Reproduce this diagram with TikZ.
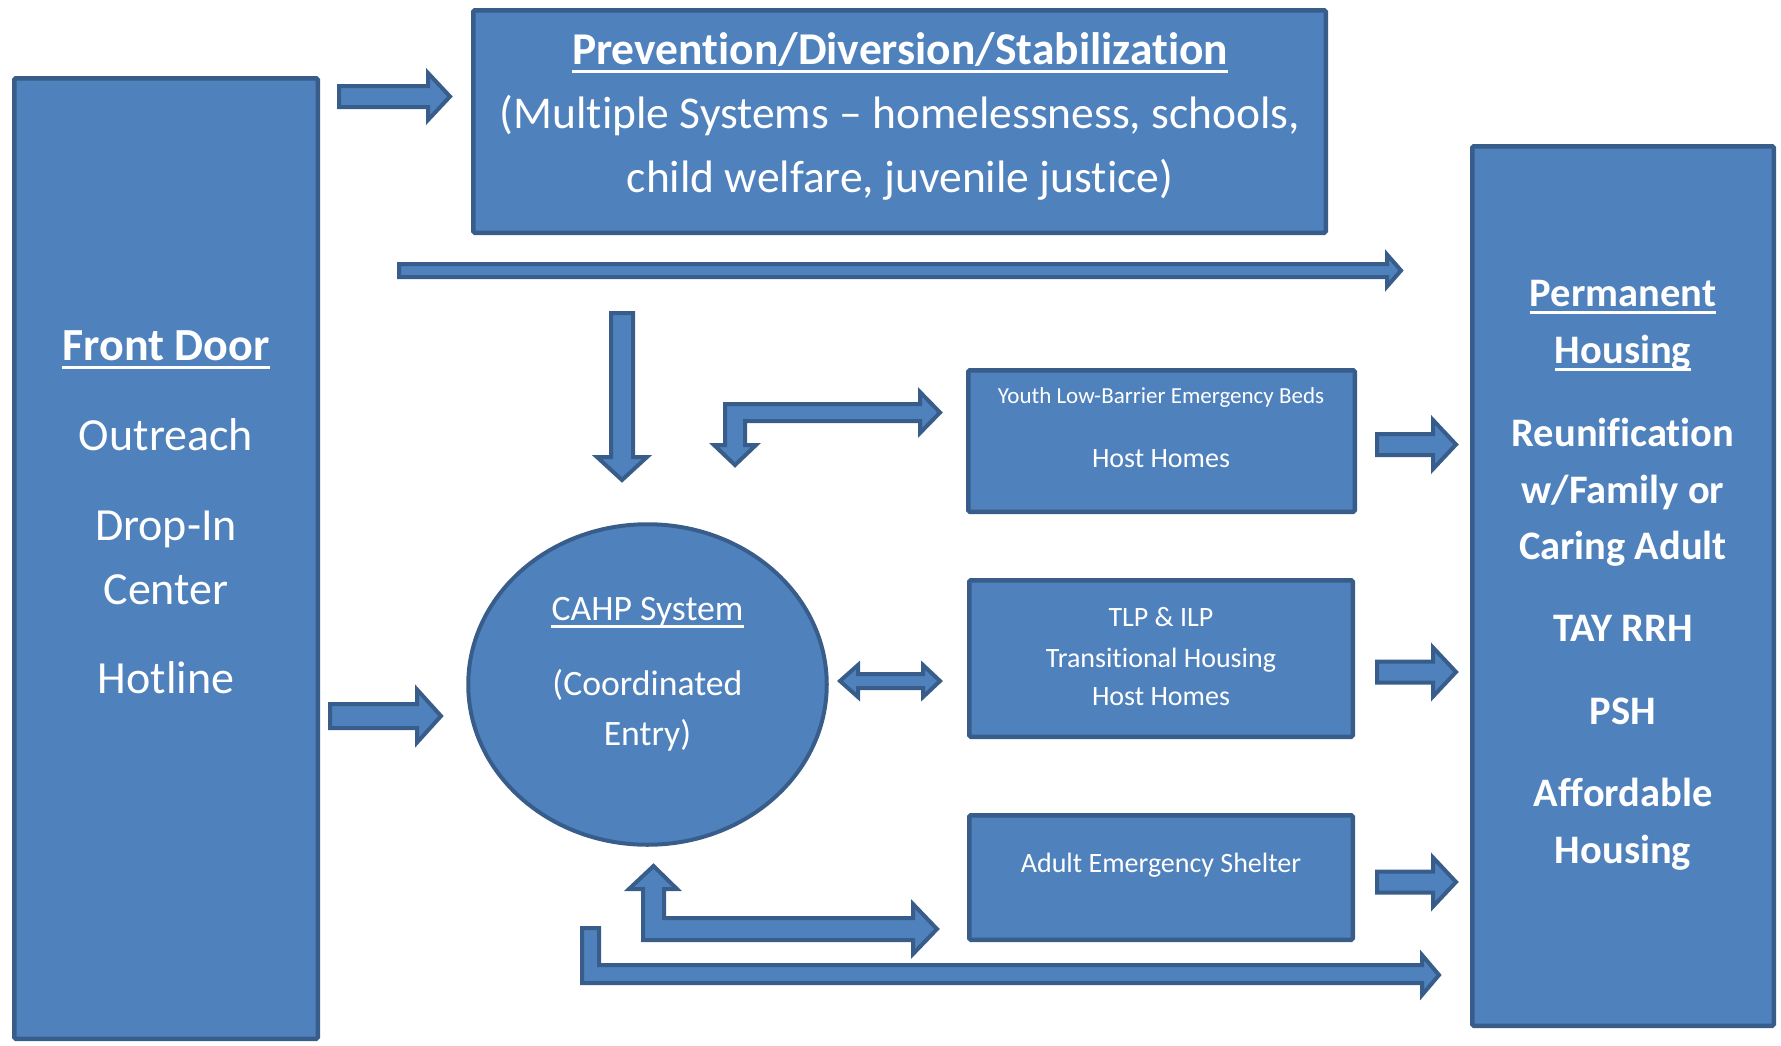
\documentclass[tikz,border=0pt]{standalone}
\usepackage{fontspec}
\setmainfont{Carlito}[Ligatures=NoCommon]
\usetikzlibrary{shapes.geometric}
\definecolor{bfill}{HTML}{4F81BD}
\definecolor{bline}{HTML}{385D8A}
\newcommand\rightblock[7]{% name x1 x2 x3 yc shafthalf headhalf
  \draw[blockarrow] (#2,#5-#6) coordinate (#1-s) -- (#3,#5-#6) -- (#3,#5-#7) -- (#4,#5) coordinate (#1-e) -- (#3,#5+#7) -- (#3,#5+#6) -- (#2,#5+#6) -- cycle;}
\begin{document}
\begin{tikzpicture}[x=1pt,y=-1pt,
  box/.style={draw=bline, fill=bfill, line width=4.5pt, inner sep=0pt, outer sep=0pt, rounded corners=1.5pt},
  blockarrow/.style={draw=bline, fill=bfill, line width=4pt, line join=miter},
  txt/.style={text=white, inner sep=0pt, anchor=base},
  big/.style={font=\fontsize{46}{55}\selectfont},
  head/.style={font=\fontsize{45.5}{55}\selectfont},
  bold34/.style={font=\fontsize{40.5}{48}\selectfont\bfseries},
  mid/.style={font=\fontsize{28}{33}\selectfont},
  small/.style={font=\fontsize{23}{28}\selectfont},
  ell/.style={font=\fontsize{35.7}{43}\selectfont},
  uline/.style={white, line width=3pt}]
\useasboundingbox (0,0) rectangle (1781,1045);

% boxes
\node[box, minimum width=303.5, minimum height=960.5] (fd) at (166,558.5) {};
\node[box, minimum width=852.5, minimum height=222.5] (prev) at (899.5,121.5) {};
\node[box, minimum width=301.5, minimum height=879.5] (perm) at (1623,586) {};
\node[box, minimum width=386.5, minimum height=141.5] (youth) at (1161.5,441) {};
\node[box, minimum width=383.5, minimum height=156.5] (tlp) at (1161,658.5) {};
\node[box, minimum width=383.5, minimum height=124.5] (adult) at (1161,877.5) {};
\node[draw=bline, fill=bfill, line width=4pt, ellipse, inner sep=0pt, minimum width=358.5, minimum height=320.5] (cahp) at (647.5,684.5) {};

% front door text
\node[txt, big] (fd1) at (166,360) {\bfseries Front Door};
\draw[uline] ([yshift=-7.5pt]fd1.base west) -- ([yshift=-7.5pt]fd1.base east);
\node[txt, big] (fd2) at (166,450) {Outreach};
\node[txt, big] (fd3) at (166,540) {Drop-In};
\node[txt, big] (fd4) at (166,604) {Center};
\node[txt, big] (fd5) at (166,693) {Hotline};

% prevention text
\node[txt, head] (pv1) at (900,64) {\bfseries Prevention/Diversion/Stabilization};
\draw[uline] ([yshift=-7.5pt]pv1.base west) -- ([yshift=-7.5pt]pv1.base east);
\node[txt, head] (pv2) at (900,128.5) {(Multiple Systems -- homelessness, schools,};
\node[txt, head] (pv3) at (900,192.5) {child welfare, juvenile justice)};

% permanent housing text
\node[txt, bold34] (ph1) at (1623,306) {Permanent};
\draw[uline] ([yshift=-6.5pt]ph1.base west) -- ([yshift=-6.5pt]ph1.base east);
\node[txt, bold34] (ph2) at (1623,363) {Housing};
\draw[uline] ([yshift=-6.5pt]ph2.base west) -- ([yshift=-6.5pt]ph2.base east);
\node[txt, bold34] (ph3) at (1623,446) {Reunification};
\node[txt, bold34] (ph4) at (1623,503) {w/Family or};
\node[txt, bold34] (ph5) at (1623,559) {Caring Adult};
\node[txt, bold34] (ph6) at (1623,641) {TAY RRH};
\node[txt, bold34] (ph7) at (1623,724) {PSH};
\node[txt, bold34] (ph8) at (1623,806) {Affordable};
\node[txt, bold34] (ph9) at (1623,863) {Housing};

% youth
\node[txt, small] (y1) at (1161,403) {Youth Low-Barrier Emergency Beds};
\node[txt, mid] (y2) at (1161,467) {Host Homes};
% tlp
\node[txt, mid] (t1) at (1161,626) {TLP \& ILP};
\node[txt, mid] (t2) at (1161,667) {Transitional Housing};
\node[txt, mid] (t3) at (1161,705) {Host Homes};
% adult
\node[txt, mid] (a1) at (1161,872) {Adult Emergency Shelter};
% cahp
\node[txt, ell] (c1) at (647.5,620.5) {CAHP System};
\draw[white, line width=2.5pt] ([yshift=-6pt]c1.base west) -- ([yshift=-6pt]c1.base east);
\node[txt, ell] (c2) at (647.5,695.5) {(Coordinated};
\node[txt, ell] (c3) at (647.5,745.5) {Entry)};

% straight block arrows
\rightblock{r1}{339}{428}{450}{96.5}{10.5}{23.5}
\rightblock{r2}{399}{1387}{1401}{270.5}{6.5}{16}
\rightblock{r3}{330}{417}{441}{716}{12}{26.5}
\rightblock{r4}{1377}{1433}{1456}{444.5}{10.5}{24.5}
\rightblock{r5}{1377}{1433}{1456}{672}{10.5}{24.5}
\rightblock{r6}{1377}{1433}{1456}{882}{10.5}{24.5}

% vertical down arrow
\draw[blockarrow] (611,313) -- (633,313) -- (633,457) -- (647,457) -- (622,480) -- (597,457) -- (611,457) -- cycle;

% youth bent arrow
\draw[blockarrow] (725,404) -- (920,404) -- (920,392) -- (940,412.5) -- (920,433) -- (920,421) -- (745,421) -- (745,445) -- (756,445) -- (735,465) -- (714,445) -- (725,445) -- cycle;

% double arrow
\draw[blockarrow] (840,681) -- (858,665) -- (858,674) -- (923,674) -- (923,665) -- (940,681) -- (923,697) -- (923,688) -- (858,688) -- (858,697) -- cycle;

% bottom up/right bent arrow
\draw[blockarrow] (643,940) -- (643,889) -- (629,889) -- (653.5,866) -- (677,889) -- (664,889) -- (664,918) -- (913,918) -- (913,904) -- (937,929) -- (913,954) -- (913,940) -- cycle;

% bottom long L arrow
\draw[blockarrow] (582,928) -- (599,928) -- (599,965) -- (1422,965) -- (1422,955) -- (1439,975) -- (1422,995) -- (1422,983) -- (582,983) -- cycle;
\end{tikzpicture}
\end{document}
